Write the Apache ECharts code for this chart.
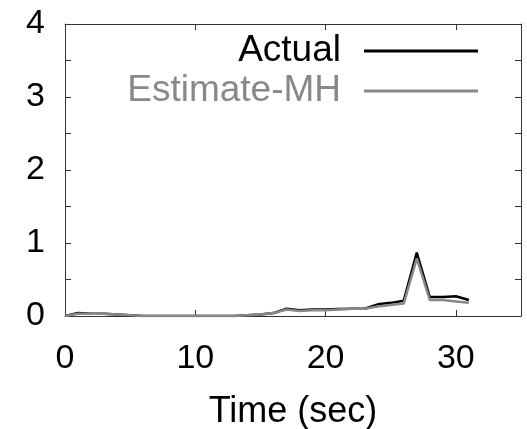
<!DOCTYPE html>
<html>
<head>
<meta charset="utf-8">
<script src="https://cdn.jsdelivr.net/npm/echarts@6/dist/echarts.min.js"></script>
<style>html,body{margin:0;padding:0;background:#fff}#c{width:527px;height:429px}</style>
</head>
<body>
<div id="c"></div>
<script>
var times = [0,1,2,3,4,5,6,7,8,9,10,11,12,13,14,15,16,17,18,19,20,21,22,23,24,25,26,27,28,29,30,31];
var actual = [0,0.04,0.03,0.03,0.02,0.01,0,0,0,0,0,0,0,0,0.01,0.02,0.04,0.1,0.08,0.09,0.09,0.095,0.1,0.1,0.16,0.18,0.21,0.87,0.26,0.26,0.27,0.22];
var estimate = [0,0.03,0.03,0.03,0.02,0.01,0,0,0,0,0,0,0,0,0.01,0.02,0.04,0.09,0.07,0.08,0.08,0.09,0.1,0.1,0.13,0.15,0.17,0.79,0.22,0.22,0.2,0.18];
var seriesNames = ['Actual','Estimate-MH'];
var xTitle = 'Time (sec)';

var FONT = 'Liberation Sans';
function pairs(ys){ return times.map(function(t,i){ return [t, ys[i]]; }); }

var chart = echarts.init(document.getElementById('c'), null, {renderer:'canvas'});
var axisLine = {show:true, onZero:false, lineStyle:{color:'#333', width:1}};
var tick = {show:true, inside:true, length:6, lineStyle:{color:'#333'}};
chart.setOption({
  animation:false,
  backgroundColor:'#fff',
  grid:{left:65, right:6, top:24, bottom:113, containLabel:false, outerBoundsMode:'none'},
  legend:{
    orient:'vertical', right:44, top:26, align:'right',
    itemWidth:114, itemHeight:3, itemGap:0, icon:'rect',
    textStyle:{fontFamily:FONT, fontSize:37, lineHeight:40, padding:[0,18,0,0]},
    data:[
      {name:seriesNames[0], textStyle:{color:'#000'}},
      {name:seriesNames[1], textStyle:{color:'#888'}}
    ]
  },
  xAxis:[{
    type:'value', min:0, max:35, interval:10, position:'bottom',
    name:xTitle, nameLocation:'middle', nameGap:78,
    nameTextStyle:{fontFamily:FONT, fontSize:36, color:'#000'},
    axisLine:axisLine, axisTick:tick,
    axisLabel:{fontFamily:FONT, fontSize:34, color:'#000', margin:26, showMaxLabel:false},
    splitLine:{show:false}
  },{
    type:'value', min:0, max:35, interval:10, position:'top',
    axisLine:axisLine, axisTick:tick,
    axisLabel:{show:false}, splitLine:{show:false}
  }],
  yAxis:[{
    type:'value', min:0, max:4, interval:0.5, position:'left',
    axisLine:axisLine, axisTick:tick,
    axisLabel:{fontFamily:FONT, fontSize:34, color:'#000', margin:20,
      formatter:function(v){ return (Math.abs(v-Math.round(v))<1e-9) ? String(Math.round(v)) : ''; }},
    splitLine:{show:false}
  },{
    type:'value', min:0, max:4, interval:0.5, position:'right',
    axisLine:axisLine, axisTick:tick,
    axisLabel:{show:false}, splitLine:{show:false}
  }],
  series:[{
    name:seriesNames[0], type:'line', data:pairs(actual), showSymbol:false, symbol:'none',
    lineStyle:{color:'#000', width:2.5}, itemStyle:{color:'#000'}, z:2
  },{
    name:seriesNames[1], type:'line', data:pairs(estimate), showSymbol:false, symbol:'none',
    lineStyle:{color:'#888', width:2.5}, itemStyle:{color:'#888'}, z:3
  }]
});
</script>
</body>
</html>
